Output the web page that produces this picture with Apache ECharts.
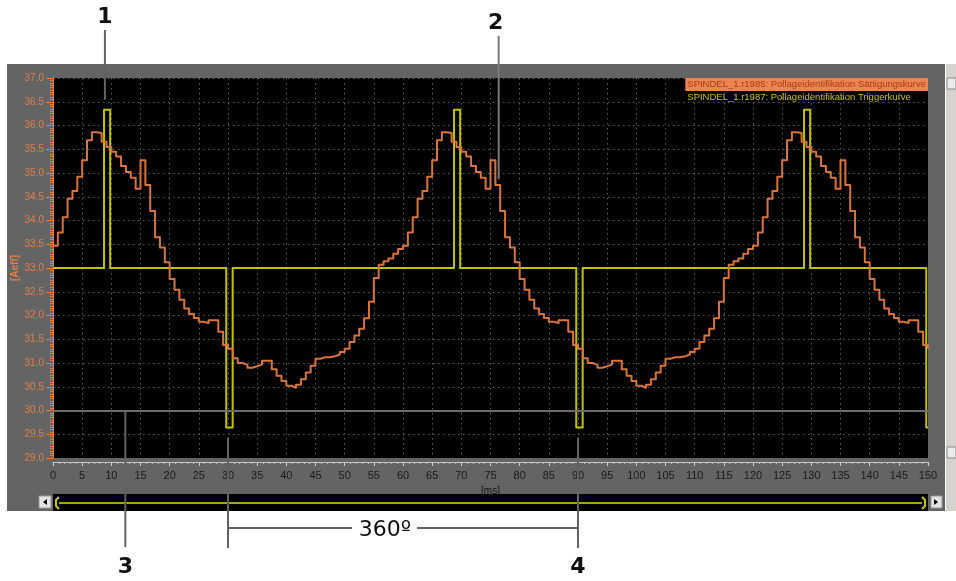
<!DOCTYPE html>
<html>
<head>
<meta charset="utf-8">
<script src="https://cdn.jsdelivr.net/npm/echarts@6/dist/echarts.min.js"></script>
<style>
  html, body { margin: 0; padding: 0; background: #ffffff; }
  #chart { width: 956px; height: 581px; }
</style>
</head>
<body>
<div id="chart"></div>
<script>
// Recorder sample interval of the saturation trace, in ms
const sampleMs = 5 / 6;

// r1985 saturation curve [Aeff], one value per sample (held until the next sample)
const saturation = [
  33.47, 33.75, 34.07, 34.46, 34.62, 34.92, 35.27, 35.69, 35.86, 35.84, 35.66, 35.55,
  35.45, 35.35, 35.15, 35.02, 34.90, 34.67, 35.27, 34.75, 34.20, 33.65, 33.43, 33.12,
  32.77, 32.54, 32.33, 32.15, 32.03, 31.95, 31.87, 31.84, 31.90, 31.90, 31.66, 31.38,
  31.30, 31.10, 31.00, 30.96, 30.90, 30.93, 30.97, 31.05, 31.05, 30.87, 30.73, 30.62,
  30.52, 30.48, 30.54, 30.66, 30.80, 30.94, 31.09, 31.12, 31.12, 31.14, 31.18, 31.23,
  31.30, 31.44, 31.58, 31.72, 31.94, 32.29, 32.79, 33.07, 33.14, 33.20, 33.30, 33.40,
  33.47, 33.75, 34.07, 34.46, 34.62, 34.92, 35.27, 35.69, 35.86, 35.84, 35.66, 35.55,
  35.45, 35.35, 35.15, 35.02, 34.90, 34.67, 35.27, 34.75, 34.20, 33.65, 33.43, 33.12,
  32.77, 32.54, 32.33, 32.15, 32.03, 31.95, 31.87, 31.84, 31.90, 31.90, 31.66, 31.38,
  31.30, 31.10, 31.00, 30.96, 30.90, 30.93, 30.97, 31.05, 31.05, 30.87, 30.73, 30.62,
  30.52, 30.48, 30.54, 30.66, 30.80, 30.94, 31.09, 31.12, 31.12, 31.14, 31.18, 31.23,
  31.30, 31.44, 31.58, 31.72, 31.94, 32.29, 32.79, 33.07, 33.14, 33.20, 33.30, 33.40,
  33.47, 33.75, 34.07, 34.46, 34.62, 34.92, 35.27, 35.69, 35.86, 35.84, 35.66, 35.55,
  35.45, 35.35, 35.15, 35.02, 34.90, 34.67, 35.27, 34.75, 34.20, 33.65, 33.43, 33.12,
  32.77, 32.54, 32.33, 32.15, 32.03, 31.95, 31.87, 31.84, 31.90, 31.90, 31.66, 31.38,
  31.30
];

// r1987 trigger curve: switching instants [ms] and the level held from each instant
const triggerTimes  = [0, 8.75, 9.8, 29.7, 30.8, 68.75, 69.8, 89.7, 90.8, 128.75, 129.8, 149.7, 150];
const triggerValues = [33.0, 36.33, 33.0, 29.64, 33.0, 36.33, 33.0, 29.64, 33.0, 36.33, 33.0, 29.64, 29.64];

// Reference level drawn across the plot
const referenceLevel = 30.0;

// Axis scales
const xRange = [0, 150], xStep = 5;
const yRange = [29, 37], yStep = 0.5;

// Series names shown in the legend
const nameSat  = 'SPINDEL_1.r1985: Pollageidentifikation Sättigungskurve';
const nameTrig = 'SPINDEL_1.r1987: Pollageidentifikation Triggerkurve';

// Callout marks: [ms, value at the inner end of the leader line]
const callout1 = [8.9, 36.54];
const callout2 = [76.4, 34.87];
const callout3 = [12.4, 30.0];
const periodStart = [30, 29.43];
const periodEnd = [90, 29.43];

const ORANGE = '#d8743c';
const YELLOW = '#c2c200';
const AXIS_ORANGE = '#e0804a';

const satData = saturation.map((v, i) => [i * sampleMs, v]);
const trigData = triggerTimes.map((t, i) => [t, triggerValues[i]]);

const chart = echarts.init(document.getElementById('chart'), null, { renderer: 'canvas' });

chart.setOption({
  animation: false,
  backgroundColor: '#ffffff',
  grid: {
    left: 53, right: 28, top: 78, bottom: 123,
    outerBoundsMode: 'none',
    containLabel: false,
    show: true, backgroundColor: '#000000', borderWidth: 0
  },
  legend: {
    orient: 'vertical',
    right: 28, top: 78,
    padding: 0,
    itemGap: 1,
    itemWidth: 0, itemHeight: 0,
    icon: 'none',
    selectedMode: false,
    textStyle: { fontFamily: 'Liberation Sans', fontSize: 9.5 },
    data: [
      { name: nameSat, textStyle: { color: '#9c4218', backgroundColor: '#f0834f', padding: [2, 2, 1, 2] } },
      { name: nameTrig, textStyle: { color: YELLOW, padding: [2, 2, 1, 2] } }
    ]
  },
  xAxis: {
    type: 'value',
    min: xRange[0], max: xRange[1], interval: xStep,
    offset: 4,
    name: '[ms]', nameLocation: 'middle', nameGap: 23,
    nameTextStyle: { color: '#111', fontFamily: 'Liberation Sans', fontSize: 10 },
    axisLine: { show: true, lineStyle: { color: '#c8c8c8', width: 1 } },
    axisTick: { show: true, length: 4, lineStyle: { color: '#d0d0d0' } },
    minorTick: { show: true, splitNumber: 5, length: 2, lineStyle: { color: '#bcbcbc' } },
    axisLabel: { color: '#1a1a1a', fontFamily: 'Liberation Sans', fontSize: 11, margin: 8, hideOverlap: false },
    splitLine: { show: true, lineStyle: { color: '#5a5a5a', width: 1, type: [1.5, 3.5] } }
  },
  yAxis: {
    type: 'value',
    min: yRange[0], max: yRange[1], interval: yStep,
    axisLine: { show: true, onZero: false, lineStyle: { color: AXIS_ORANGE, width: 1 } },
    axisTick: { show: true, length: 7, lineStyle: { color: AXIS_ORANGE } },
    minorTick: { show: true, splitNumber: 10, length: 3, lineStyle: { color: AXIS_ORANGE } },
    axisLabel: {
      color: AXIS_ORANGE, fontFamily: 'Liberation Sans', fontSize: 10, margin: 9,
      formatter: v => v.toFixed(1)
    },
    splitLine: { show: true, lineStyle: { color: '#5a5a5a', width: 1, type: [1.5, 3.5] } }
  },
  series: [
    {
      name: nameTrig,
      type: 'line',
      step: 'end',
      data: trigData,
      symbol: 'none',
      z: 3,
      lineStyle: { color: YELLOW, width: 2, join: 'round' },
      itemStyle: { color: YELLOW },
      markLine: {
        silent: true,
        symbol: 'none',
        label: { show: false },
        lineStyle: { color: '#6c6c6c', width: 2, type: 'solid' },
        data: [{ yAxis: referenceLevel }]
      }
    },
    {
      name: nameSat,
      type: 'line',
      step: 'end',
      data: satData,
      symbol: 'none',
      z: 4,
      lineStyle: { color: ORANGE, width: 2, join: 'round' },
      itemStyle: { color: ORANGE }
    }
  ]
});

// Panel frame, scrollbars, unit label and callouts drawn around the plot
const px = p => chart.convertToPixel({ gridIndex: 0 }, p);
const c1 = px(callout1), c2 = px(callout2), c3 = px(callout3);
const ps = px(periodStart), pe = px(periodEnd);
const plotL = px([xRange[0], yRange[0]])[0];
const plotR = px([xRange[1], yRange[0]])[0];
const plotMidY = (px([0, yRange[0]])[1] + px([0, yRange[1]])[1]) / 2;

const LEADER = '#626262';
const labelFont = { fontFamily: 'DejaVu Sans', fontSize: 22, fontWeight: 'bold', fill: '#111' };

const graphics = [
  // grey instrument panel
  { type: 'rect', z: -10, silent: true, shape: { x: 7, y: 64, width: 938, height: 447 }, style: { fill: '#646464' } },
  // unit of the value axis
  { type: 'text', z: 10, silent: true, x: 15, y: plotMidY, rotation: Math.PI / 2,
    style: { text: '[Aeff]', x: 0, y: 0, align: 'center', verticalAlign: 'middle', fontFamily: 'Liberation Sans', fontSize: 10, fontWeight: 'bold', fill: AXIS_ORANGE } },
  // right-hand vertical scrollbar
  { type: 'rect', z: -5, silent: true, shape: { x: 946, y: 64, width: 10, height: 447 }, style: { fill: '#d6d3ce' } },
  { type: 'rect', z: -4, silent: true, shape: { x: 947, y: 78, width: 9, height: 11 }, style: { fill: '#ececec', stroke: '#888', lineWidth: 1 } },
  { type: 'rect', z: -4, silent: true, shape: { x: 947, y: 447, width: 9, height: 11 }, style: { fill: '#ececec', stroke: '#888', lineWidth: 1 } },
  // horizontal scrollbar track
  { type: 'rect', z: -4, silent: true, shape: { x: plotL, y: 494, width: plotR - plotL, height: 17 }, style: { fill: '#000' } },
  { type: 'line', z: -3, silent: true, shape: { x1: plotL + 6, y1: 503, x2: plotR - 6, y2: 503 }, style: { stroke: '#a8a800', lineWidth: 2 } },
  { type: 'polyline', z: -3, silent: true, shape: { points: [[plotL + 6, 497], [plotL + 3, 500], [plotL + 3, 506], [plotL + 6, 509]] }, style: { stroke: '#c8c800', lineWidth: 2, fill: null } },
  { type: 'polyline', z: -3, silent: true, shape: { points: [[plotR - 6, 497], [plotR - 3, 500], [plotR - 3, 506], [plotR - 6, 509]] }, style: { stroke: '#c8c800', lineWidth: 2, fill: null } },
  // scroll buttons
  { type: 'rect', z: -3, silent: true, shape: { x: 39, y: 496, width: 12, height: 12 }, style: { fill: '#e4e4e4', stroke: '#999', lineWidth: 1 } },
  { type: 'polygon', z: -2, silent: true, shape: { points: [[43, 502], [47, 499], [47, 505]] }, style: { fill: '#000' } },
  { type: 'rect', z: -3, silent: true, shape: { x: 931, y: 496, width: 11, height: 12 }, style: { fill: '#e4e4e4', stroke: '#999', lineWidth: 1 } },
  { type: 'polygon', z: -2, silent: true, shape: { points: [[938, 502], [934, 499], [934, 505]] }, style: { fill: '#000' } },

  // callout 1
  { type: 'line', z: 100, silent: true, shape: { x1: c1[0], y1: 30, x2: c1[0], y2: c1[1] }, style: { stroke: LEADER, lineWidth: 2 } },
  { type: 'text', z: 100, silent: true, style: Object.assign({ text: '1', x: c1[0], y: 17, align: 'center', verticalAlign: 'middle' }, labelFont) },
  // callout 2
  { type: 'line', z: 100, silent: true, shape: { x1: c2[0], y1: 36, x2: c2[0], y2: c2[1] }, style: { stroke: '#7a7a7a', lineWidth: 2 } },
  { type: 'text', z: 100, silent: true, style: Object.assign({ text: '2', x: c2[0] - 3, y: 23, align: 'center', verticalAlign: 'middle' }, labelFont) },
  // callout 3
  { type: 'line', z: 100, silent: true, shape: { x1: c3[0], y1: c3[1], x2: c3[0], y2: 547 }, style: { stroke: LEADER, lineWidth: 2 } },
  { type: 'text', z: 100, silent: true, style: Object.assign({ text: '3', x: c3[0], y: 567, align: 'center', verticalAlign: 'middle' }, labelFont) },
  // one electrical revolution between two negative trigger pulses
  { type: 'line', z: 100, silent: true, shape: { x1: ps[0], y1: ps[1], x2: ps[0], y2: 548 }, style: { stroke: LEADER, lineWidth: 2 } },
  { type: 'line', z: 100, silent: true, shape: { x1: pe[0], y1: pe[1], x2: pe[0], y2: 548 }, style: { stroke: LEADER, lineWidth: 2 } },
  { type: 'line', z: 100, silent: true, shape: { x1: ps[0], y1: 528, x2: 352, y2: 528 }, style: { stroke: LEADER, lineWidth: 2 } },
  { type: 'line', z: 100, silent: true, shape: { x1: 417, y1: 528, x2: pe[0], y2: 528 }, style: { stroke: LEADER, lineWidth: 2 } },
  { type: 'text', z: 100, silent: true, style: { text: '360º', x: 385, y: 530, align: 'center', verticalAlign: 'middle', fontFamily: 'DejaVu Sans', fontSize: 22, fill: '#111' } },
  { type: 'text', z: 100, silent: true, style: Object.assign({ text: '4', x: pe[0], y: 567, align: 'center', verticalAlign: 'middle' }, labelFont) }
];

chart.setOption({ graphic: graphics });
</script>
</body>
</html>
